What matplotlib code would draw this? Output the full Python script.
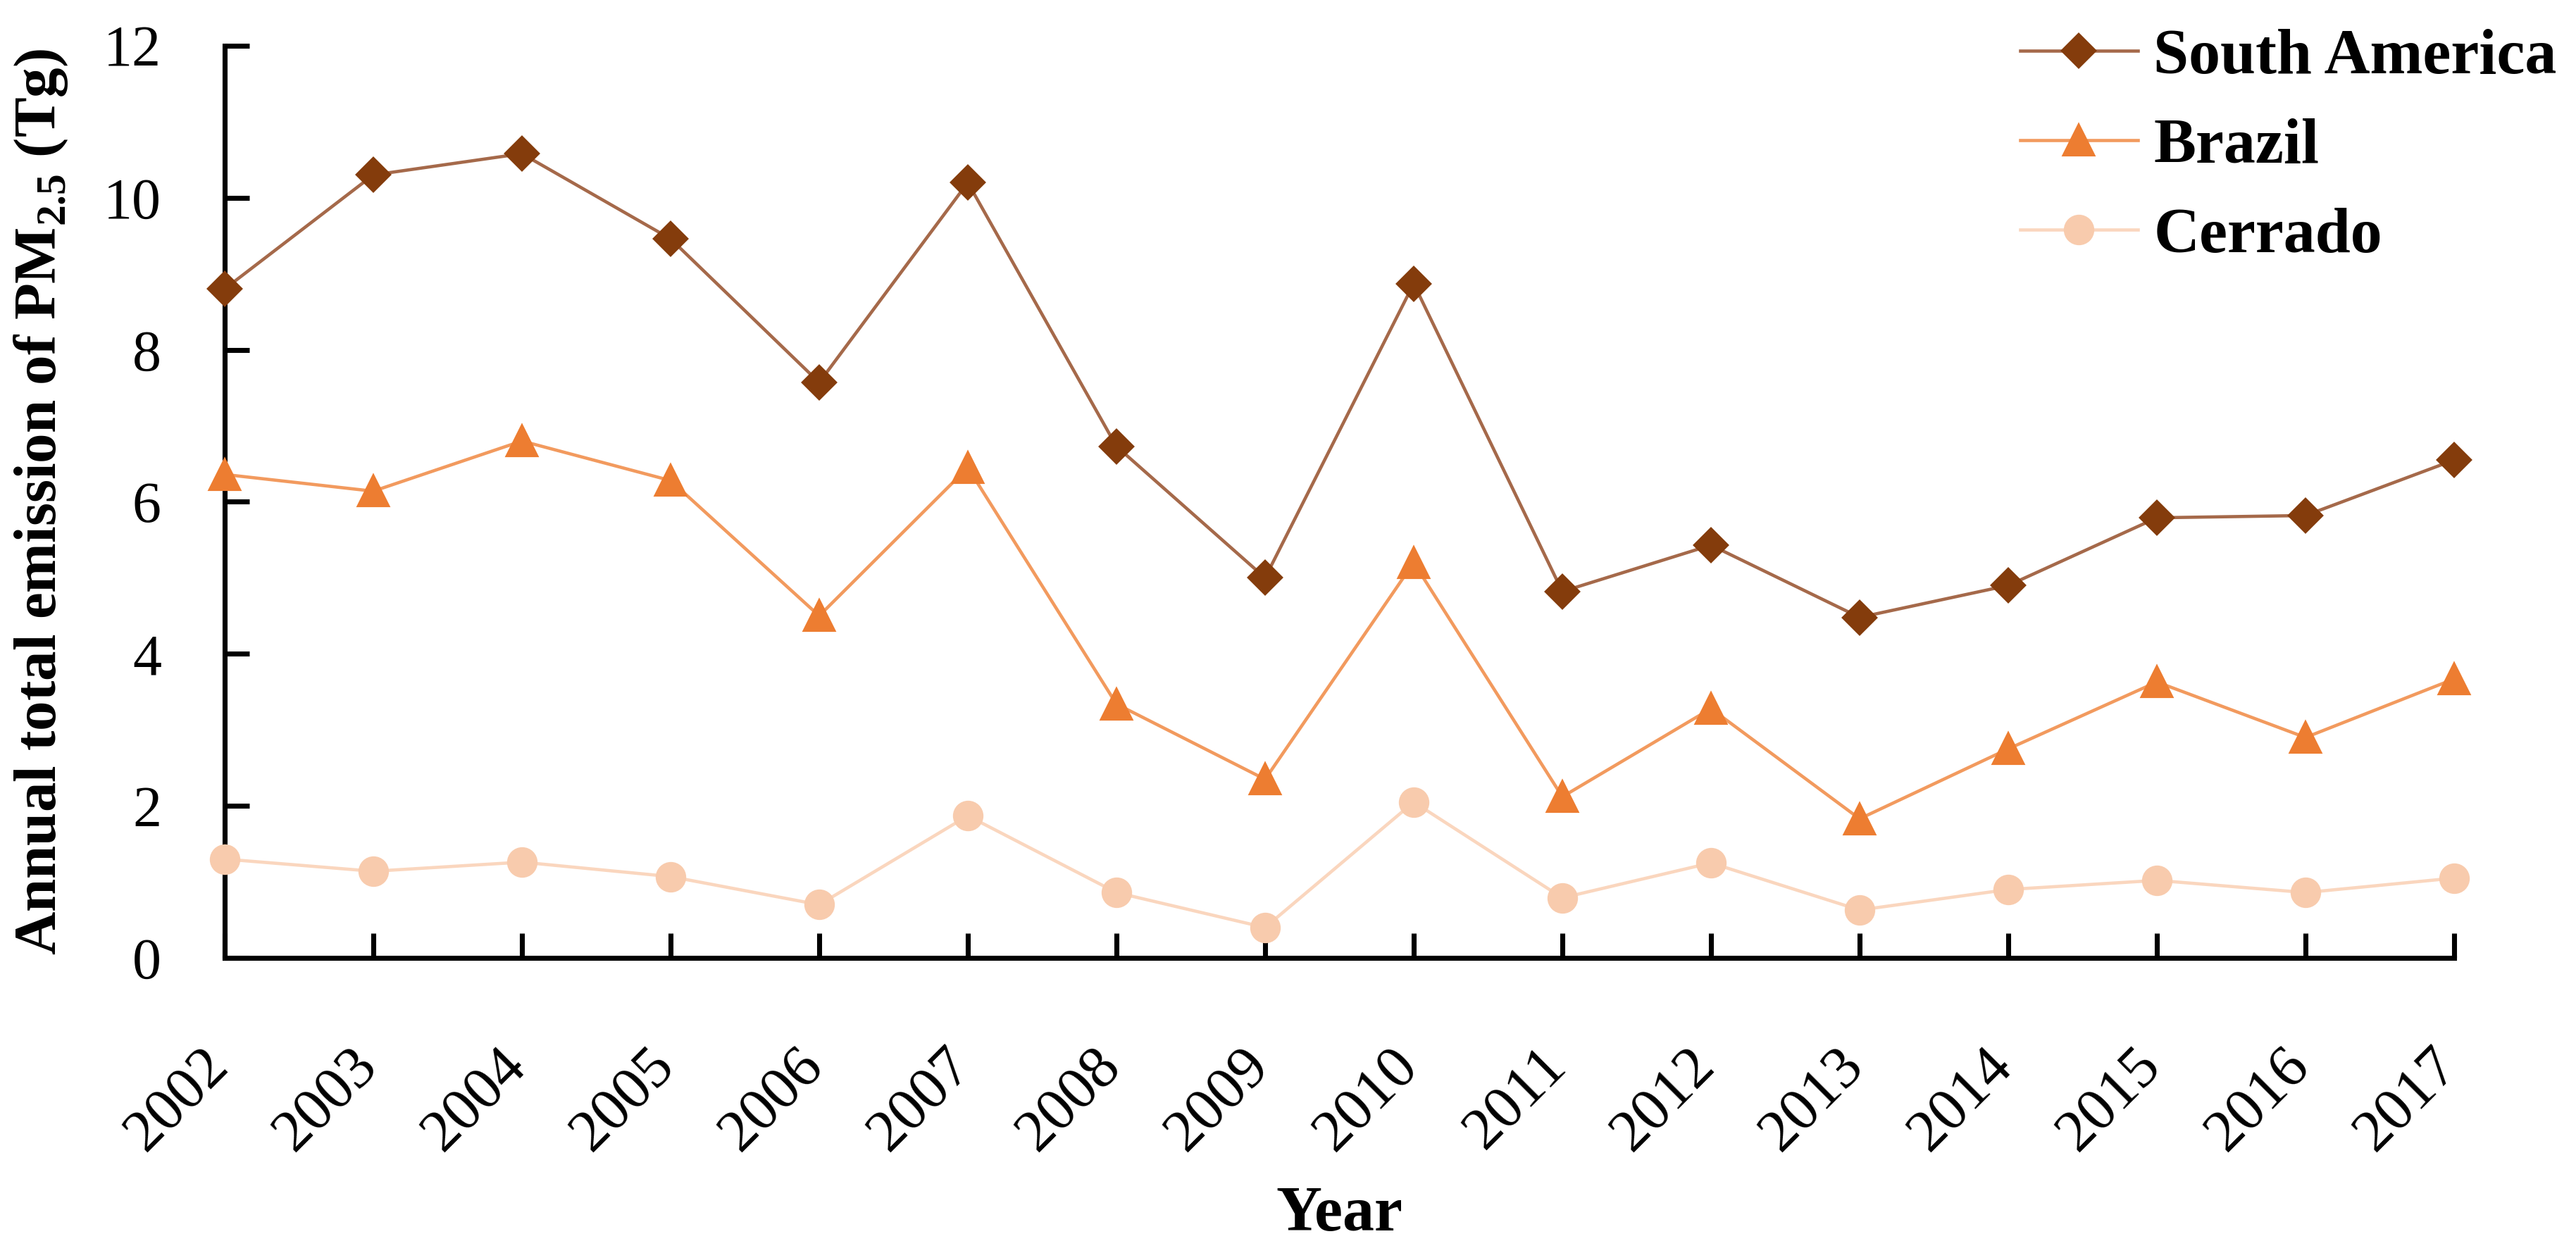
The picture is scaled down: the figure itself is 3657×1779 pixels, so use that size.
import matplotlib
matplotlib.use("Agg")
import matplotlib.pyplot as plt
from matplotlib.transforms import ScaledTranslation

years = list(range(2002, 2018))
year_labels = [str(y) for y in years]
south_america = [8.80, 10.30, 10.58, 9.46, 7.57, 10.20, 6.73, 5.00, 8.87, 4.82, 5.43, 4.48, 4.90, 5.79, 5.82, 6.55]
brazil = [6.36, 6.14, 6.80, 6.28, 4.50, 6.45, 3.34, 2.35, 5.20, 2.12, 3.28, 1.83, 2.75, 3.63, 2.90, 3.67]
cerrado = [1.30, 1.14, 1.26, 1.07, 0.70, 1.87, 0.86, 0.40, 2.05, 0.79, 1.25, 0.63, 0.90, 1.02, 0.86, 1.05]
series_names = ["South America", "Brazil", "Cerrado"]
yticks = [0, 2, 4, 6, 8, 10, 12]

plt.rcParams['font.family'] = ['Liberation Serif', 'DejaVu Serif']
plt.rcParams['mathtext.fontset'] = 'custom'
plt.rcParams['mathtext.rm'] = 'Liberation Serif'
plt.rcParams['mathtext.bf'] = 'Liberation Serif:bold'

fig = plt.figure(figsize=(12.19, 5.93), dpi=300)
ax = fig.add_axes([0.0872, 0.2355, 0.8655, 0.728])

styles = [
    dict(marker='D', ms=7.8, mfc='#843C0C', mec='#843C0C', color='#A5694A'),
    dict(marker='^', ms=10.0, mfc='#ED7D31', mec='#ED7D31', color='#F29A5E'),
    dict(marker='o', ms=9.4, mfc='#F8CBAD', mec='#F8CBAD', color='#FAD6BE'),
]
for name, vals, st in zip(series_names, [south_america, brazil, cerrado], styles):
    ax.plot(years, vals, lw=1.1, label=name, clip_on=False, zorder=3, **st)

ax.set_xlim(2002, 2017)
ax.set_ylim(0, 12)
ax.set_yticks(yticks)
ax.set_xticks(years)
ax.set_xticklabels(year_labels, rotation=45, ha='right', va='top', fontsize=20.5)
ax.tick_params(axis='y', labelsize=19.7)
ax.tick_params(axis='both', direction='in', length=8.4, width=1.7, color='black')
ax.tick_params(axis='y', pad=21.6)
ax.tick_params(axis='x', pad=27.5)
for lab in ax.get_xticklabels():
    lab.set_transform(lab.get_transform() + ScaledTranslation(5.0 / 72, 0, fig.dpi_scale_trans))

for s in ['top', 'right']:
    ax.spines[s].set_visible(False)
for s in ['left', 'bottom']:
    ax.spines[s].set_linewidth(1.7)
    ax.spines[s].set_color('black')

ax.set_xlabel('Year', fontsize=21.6, fontweight='bold')
ax.xaxis.set_label_coords(0.5, -0.2988)
ax.xaxis.label.set_va('baseline')

ax.set_ylabel(r'Annual total emission of PM$_{\mathbf{2.5}}$ (Tg)', fontsize=20.4, fontweight='bold')
ax.yaxis.set_label_coords(-0.0824, 0.5)
ax.yaxis.label.set_va('center')
ax.yaxis.label.set_ha('center')
ax.yaxis.label.set_rotation_mode('default')

leg = fig.legend(loc='upper left', bbox_to_anchor=(0.7843, 0.977), frameon=False,
                 prop={'size': 21.6, 'weight': 'bold'}, handlelength=1.85,
                 handletextpad=0.25, labelspacing=0.5, borderpad=0, borderaxespad=0)

fig.savefig('out.png', dpi=300)
